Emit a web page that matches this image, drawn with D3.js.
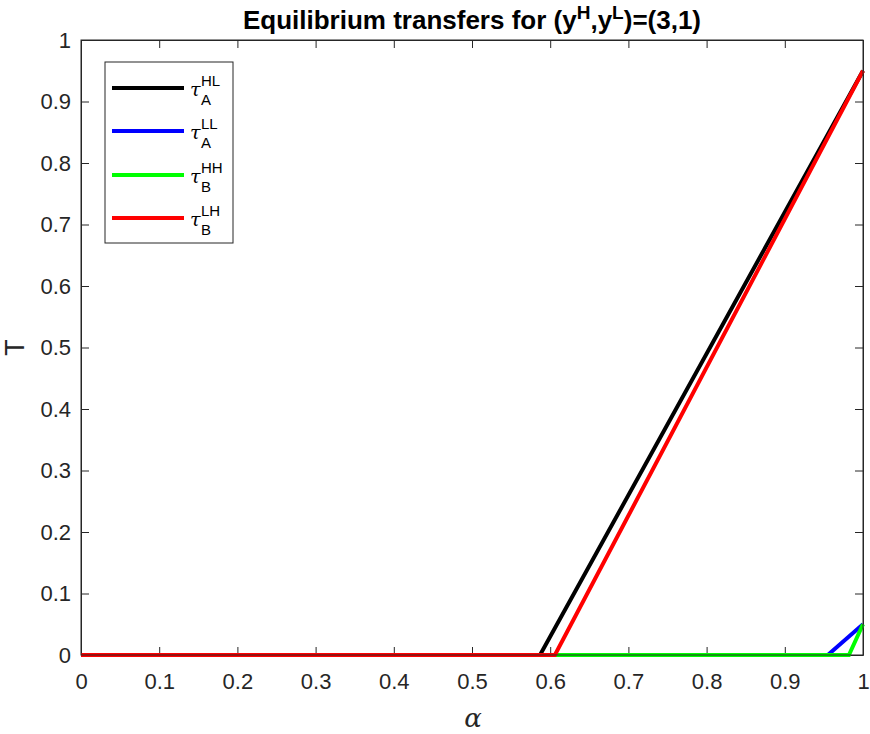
<!DOCTYPE html>
<html>
<head>
<meta charset="utf-8">
<script src="https://cdn.jsdelivr.net/npm/d3@7"></script>
<style>
  body { margin: 0; background: #fff; }
  svg { display: block; }
  .tick text { font-family: "Liberation Sans", Arial, sans-serif; font-size: 22px; fill: #262626; }
</style>
</head>
<body>
<svg id="chart" width="870" height="734"></svg>
<script>
// Equilibrium transfers as functions of alpha (piecewise linear kinks)
const alphaHLA = [0, 0.587, 1];
const tauHLA   = [0, 0, 0.95];
const alphaLLA = [0, 0.955, 1];
const tauLLA   = [0, 0, 0.05];
const alphaHHB = [0, 0.982, 1];
const tauHHB   = [0, 0, 0.05];
const alphaLHB = [0, 0.606, 1];
const tauLHB   = [0, 0, 0.95];

const xTicks = [0, 0.1, 0.2, 0.3, 0.4, 0.5, 0.6, 0.7, 0.8, 0.9, 1];
const yTicks = [0, 0.1, 0.2, 0.3, 0.4, 0.5, 0.6, 0.7, 0.8, 0.9, 1];

const series = [
  { name: "HL", sub: "A", color: "#000000", xs: alphaHLA, ys: tauHLA },
  { name: "LL", sub: "A", color: "#0000ff", xs: alphaLLA, ys: tauLLA },
  { name: "HH", sub: "B", color: "#00ff00", xs: alphaHHB, ys: tauHHB },
  { name: "LH", sub: "B", color: "#ff0000", xs: alphaLHB, ys: tauLHB }
];

const svg = d3.select("#chart");
const L = 81, R = 863, T = 40, B = 655;

const x = d3.scaleLinear().domain([0, 1]).range([L, R]);
const y = d3.scaleLinear().domain([0, 1]).range([B, T]);

const axisColor = "#262626";
const fmt = d => d === 0 || d === 1 ? String(d) : d.toFixed(1);

// axes with inward ticks on all four sides
const gx = svg.append("g").attr("transform", `translate(0,${B})`)
  .call(d3.axisBottom(x).tickValues(xTicks).tickFormat(fmt).tickSizeInner(-8).tickSizeOuter(0).tickPadding(18));
const gy = svg.append("g").attr("transform", `translate(${L},0)`)
  .call(d3.axisLeft(y).tickValues(yTicks).tickFormat(fmt).tickSizeInner(-8).tickSizeOuter(0).tickPadding(10));
const gxt = svg.append("g").attr("transform", `translate(0,${T})`)
  .call(d3.axisTop(x).tickValues(xTicks).tickFormat("").tickSizeInner(-8).tickSizeOuter(0));
const gyr = svg.append("g").attr("transform", `translate(${R},0)`)
  .call(d3.axisRight(y).tickValues(yTicks).tickFormat("").tickSizeInner(-8).tickSizeOuter(0));
[gx, gy, gxt, gyr].forEach(g => {
  g.selectAll("line").attr("stroke", axisColor);
  g.select(".domain").attr("stroke", axisColor);
});

// lines
const line = d3.line().x(d => x(d[0])).y(d => y(d[1]));
svg.append("g").selectAll("path").data(series).join("path")
  .attr("d", s => line(s.xs.map((v, i) => [v, s.ys[i]])))
  .attr("fill", "none")
  .attr("stroke", s => s.color)
  .attr("stroke-width", 4)
  .attr("stroke-linejoin", "miter");

// frame border
svg.append("rect").attr("x", L).attr("y", T).attr("width", R - L).attr("height", B - T)
  .attr("fill", "none").attr("stroke", axisColor).attr("stroke-width", 1);

// title
const title = svg.append("text").attr("x", (L + R) / 2).attr("y", 29)
  .attr("text-anchor", "middle")
  .attr("font-family", "'Liberation Sans', Arial, sans-serif")
  .attr("font-weight", "bold").attr("font-size", 26).attr("fill", "#000");
title.append("tspan").text("Equilibrium transfers for (y");
title.append("tspan").attr("dy", -10).attr("font-size", 19).text("H");
title.append("tspan").attr("dy", 10).text(",y");
title.append("tspan").attr("dy", -10).attr("font-size", 19).text("L");
title.append("tspan").attr("dy", 10).text(")=(3,1)");

// axis labels
svg.append("text").attr("x", (L + R) / 2 + 1).attr("y", 727).attr("text-anchor", "middle")
  .attr("font-family", "'DejaVu Serif', 'Liberation Serif', serif").attr("font-style", "italic")
  .attr("font-size", 26).attr("fill", axisColor).text("α");
svg.append("text").attr("transform", `translate(24,${(T + B) / 2}) rotate(-90)`)
  .attr("text-anchor", "middle")
  .attr("font-family", "'Liberation Sans', Arial, sans-serif")
  .attr("font-size", 27).attr("fill", axisColor).text("T");

// legend
const lg = svg.append("g");
lg.append("rect").attr("x", 105).attr("y", 62).attr("width", 128).attr("height", 181)
  .attr("fill", "#fff").attr("stroke", axisColor).attr("stroke-width", 1);
const rowY = [88, 131, 175, 218];
series.forEach((s, i) => {
  const yy = rowY[i];
  lg.append("line").attr("x1", 112).attr("x2", 184).attr("y1", yy).attr("y2", yy)
    .attr("stroke", s.color).attr("stroke-width", 4);
  lg.append("text").attr("x", 190).attr("y", yy + 8)
    .attr("font-family", "'DejaVu Serif', 'Liberation Serif', serif").attr("font-style", "italic")
    .attr("font-size", 19).attr("fill", "#000").text("τ");
  lg.append("text").attr("x", 201).attr("y", yy - 2)
    .attr("font-family", "'Liberation Sans', Arial, sans-serif")
    .attr("font-size", 15).attr("fill", "#000").text(s.name);
  lg.append("text").attr("x", 201).attr("y", yy + 17)
    .attr("font-family", "'Liberation Sans', Arial, sans-serif")
    .attr("font-size", 15).attr("fill", "#000").text(s.sub);
});
</script>
</body>
</html>
